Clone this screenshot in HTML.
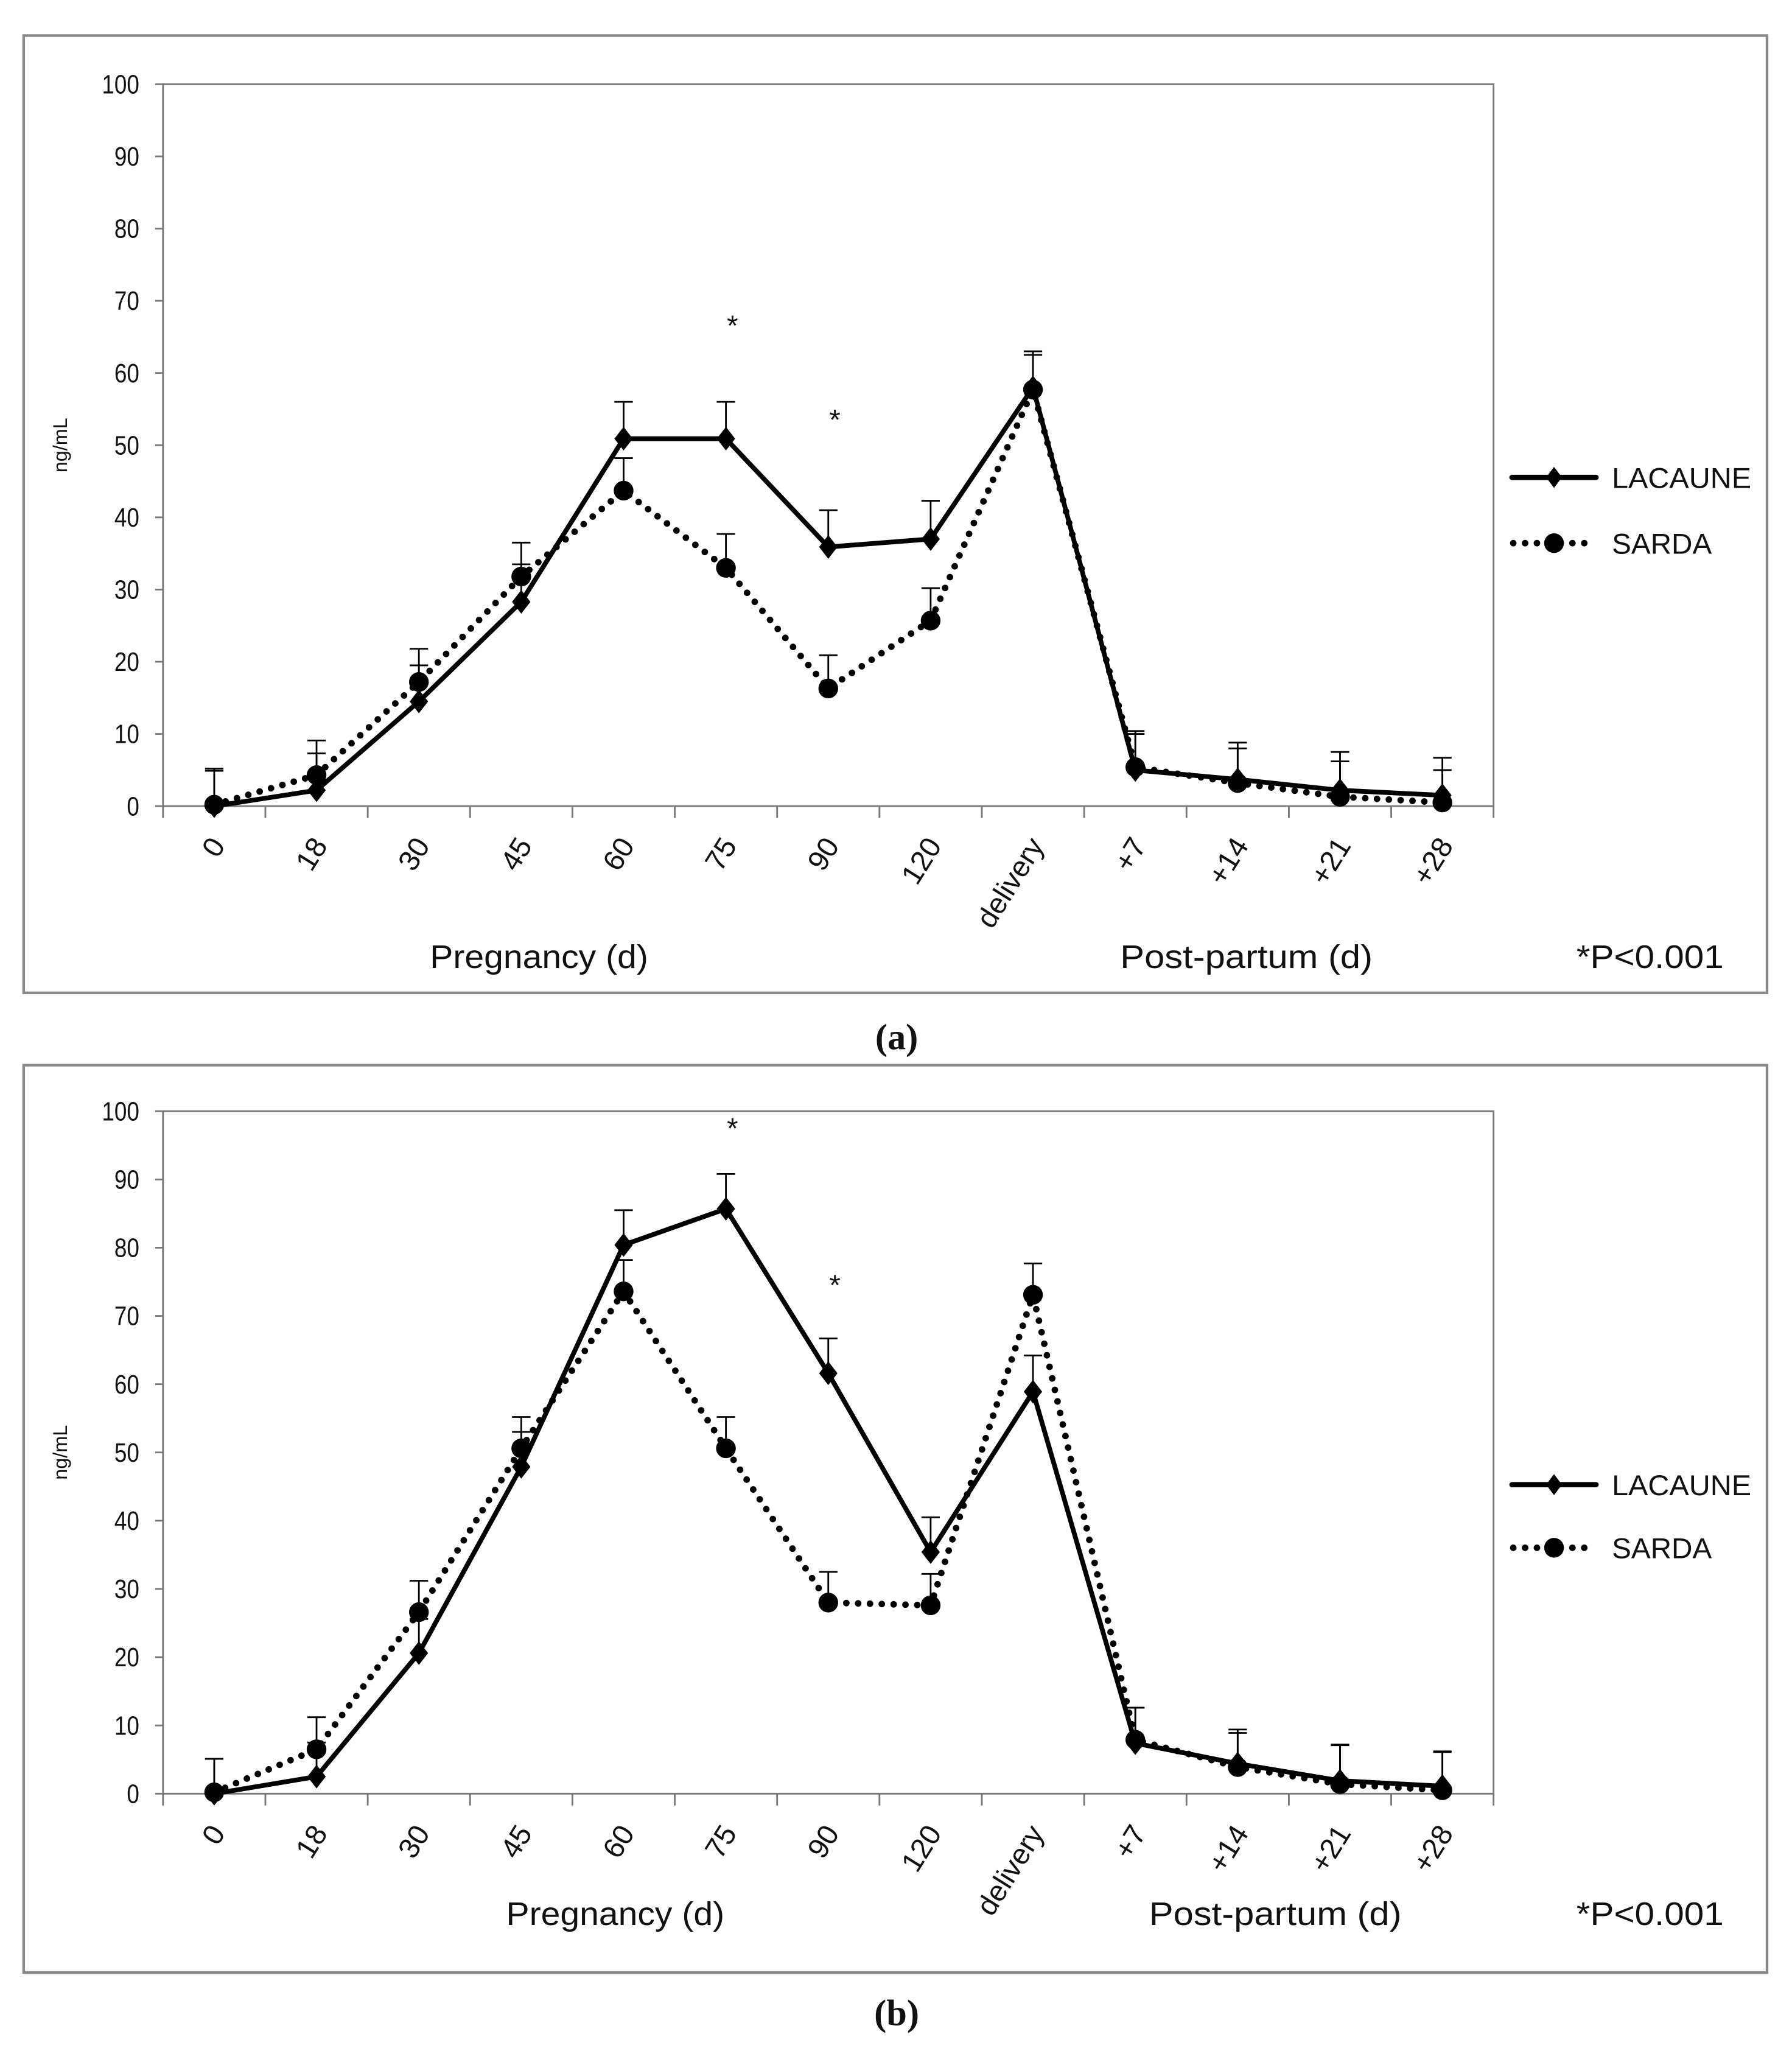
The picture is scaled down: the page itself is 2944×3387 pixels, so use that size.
<!DOCTYPE html>
<html><head><meta charset="utf-8"><style>
html,body{margin:0;padding:0;background:#fff}
svg{display:block}
text{font-family:"Liberation Sans",sans-serif;fill:#111}
text.serif{font-family:"Liberation Serif",serif;font-weight:bold}
</style></head><body>
<svg id="fig" width="2944" height="3387" viewBox="0 0 1363 1568" xmlns="http://www.w3.org/2000/svg"></svg>
<script>
const categories=["0","18","30","45","60","75","90","120","delivery","+7","+14","+21","+28"];
const yTicks=[0,10,20,30,40,50,60,70,80,90,100];
const aLacaune=[0,2.2,14.5,28.3,50.9,50.9,35.9,37.0,58.0,5.0,3.7,2.2,1.5];
const aLacauneErr=[5.2,5.1,5.0,5.2,5.1,5.1,5.1,5.3,5.0,5.4,5.1,5.3,5.2];
const aSarda=[0.2,4.3,17.2,31.8,43.7,33.0,16.3,25.7,57.7,5.4,3.2,1.3,0.5];
const aSardaErr=[4.7,4.8,4.6,4.7,4.5,4.7,4.6,4.5,4.8,4.6,4.8,4.9,4.5];
const bLacaune=[0,2.5,20.6,47.9,80.4,85.7,61.6,35.4,58.9,7.4,4.4,1.9,1.1];
const bLacauneErr=[5.1,5.0,5.0,5.1,5.1,5.1,5.1,5.1,5.3,5.2,5.0,5.3,5.1];
const bSarda=[0.2,6.5,26.6,50.6,73.6,50.6,28.0,27.6,73.1,7.9,3.9,1.4,0.5];
const bSardaErr=[4.9,4.7,4.6,4.6,4.6,4.6,4.5,4.6,4.6,4.7,5.0,5.7,5.6];
const aStars=[[5,67],[6,54]];
const bStars=[[5,98],[6,75]];

const NS="http://www.w3.org/2000/svg";
const svg=document.getElementById('fig');
function el(tag,attrs,parent,txt){const e=document.createElementNS(NS,tag);for(const k in attrs)e.setAttribute(k,attrs[k]);if(txt!==undefined)e.textContent=txt;(parent||svg).appendChild(e);return e;}

function panel(id,box,top,bottom,lac,lacE,sar,sarE,stars,legY,titleY,pregX,postX,capY,cap){
  const g=el('g',{});
  
  
  const frame=el('rect',{x:18,y:box[0],width:1326,height:box[1]-box[0],fill:'none',stroke:'#888','stroke-width':2},g);
  
  
  const L=124,R=1136,n=categories.length,bw=(R-L)/n;
  const x=i=>L+bw*(i+0.5);
  const y=v=>bottom-(bottom-top)*v/100;
  const pa=el('rect',{x:L,y:top,width:R-L,height:bottom-top,fill:'none',stroke:'#777','stroke-width':1.3},g);
  
  
  yTicks.forEach(t=>{
    el('line',{x1:L-6,x2:L,y1:y(t),y2:y(t),stroke:'#777','stroke-width':1.3},g);
    const tl=el('text',{x:L-18,y:y(t)+7,'text-anchor':'end','font-size':20,textLength:String(t).length*9.5,lengthAdjust:'spacingAndGlyphs'},g,String(t));
    
    
  });
  for(let i=0;i<=n;i++) el('line',{x1:L+bw*i,x2:L+bw*i,y1:bottom,y2:bottom+9,stroke:'#777','stroke-width':1.3},g);
  categories.forEach((c,i)=>{
    const t=el('text',{x:0,y:0,'text-anchor':'end','font-size':22,transform:`translate(${x(i)+9},${bottom+30}) rotate(-58)`},g,c);
    
    
  });
  const yt=el('text',{x:0,y:0,'font-size':15,'text-anchor':'middle',transform:`translate(51,${(top+bottom)/2}) rotate(-90)`},g,'ng/mL');
  
  
  function err(vals,errs,name){
    vals.forEach((v,i)=>{
      const e=el('g',{stroke:'#000','stroke-width':1.3},g);
      
      
      el('line',{x1:x(i),x2:x(i),y1:y(v),y2:y(v+errs[i])},e);
      el('line',{x1:x(i)-7,x2:x(i)+7,y1:y(v+errs[i]),y2:y(v+errs[i])},e);
    });
  }
  err(sar,sarE,'sarda');err(lac,lacE,'lacaune');
  const sp=el('polyline',{points:sar.map((v,i)=>x(i)+','+y(v)).join(' '),fill:'none',stroke:'#000','stroke-width':5,'stroke-dasharray':'0 9','stroke-linecap':'round'},g);
  
  
  sar.forEach((v,i)=>{const c=el('circle',{cx:x(i),cy:y(v),r:7.5,fill:'#000'},g);
    
    });
  const lp=el('polyline',{points:lac.map((v,i)=>x(i)+','+y(v)).join(' '),fill:'none',stroke:'#000','stroke-width':3.6,'stroke-linejoin':'round'},g);
  
  
  lac.forEach((v,i)=>{const X=x(i),Y=y(v);const d=el('polygon',{points:`${X},${Y-9} ${X+7},${Y} ${X},${Y+9} ${X-7},${Y}`,fill:'#000'},g);
    
    });
  stars.forEach(s=>{const t=el('text',{x:x(s[0])+5,y:y(s[1])+10,'text-anchor':'middle','font-size':22},g,'*');
    
    });
  const lg=el('g',{},g);
  
  
  const l1=el('g',{},lg);
  
  
  el('line',{x1:1150,x2:1214,y1:legY[0],y2:legY[0],stroke:'#000','stroke-width':4,'stroke-linecap':'round'},l1);
  el('polygon',{points:`1182,${legY[0]-8} 1188,${legY[0]} 1182,${legY[0]+8} 1176,${legY[0]}`,fill:'#000'},l1);
  el('text',{x:1226,y:legY[0]+8,'font-size':22,textLength:106,lengthAdjust:'spacingAndGlyphs'},l1,'LACAUNE');
  const l2=el('g',{},lg);
  
  
  el('line',{x1:1151,x2:1214,y1:legY[1],y2:legY[1],stroke:'#000','stroke-width':5,'stroke-dasharray':'0 9','stroke-linecap':'round'},l2);
  el('circle',{cx:1182,cy:legY[1],r:7.5,fill:'#000'},l2);
  el('text',{x:1226,y:legY[1]+8,'font-size':22,textLength:76,lengthAdjust:'spacingAndGlyphs'},l2,'SARDA');
  const p1=el('text',{x:pregX,y:titleY,'text-anchor':'middle','font-size':25,textLength:166,lengthAdjust:'spacingAndGlyphs'},g,'Pregnancy (d)');
  
  
  const p2=el('text',{x:postX,y:titleY,'text-anchor':'middle','font-size':25,textLength:192,lengthAdjust:'spacingAndGlyphs'},g,'Post-partum (d)');
  
  
  const p3=el('text',{x:1255,y:titleY,'text-anchor':'middle','font-size':25,textLength:112,lengthAdjust:'spacingAndGlyphs'},g,'*P<0.001');
  
  
  const c=el('text',{x:682,y:capY,'text-anchor':'middle','font-size':28,'class':'serif'},svg,'('+cap+')');
  
  
}
panel('a',[27,755],64,613,aLacaune,aLacauneErr,aSarda,aSardaErr,aStars,[363,413],736,410,948,798,'a');
panel('b',[810,1500],845,1364,bLacaune,bLacauneErr,bSarda,bSardaErr,bStars,[1129,1177],1464,468,970,1540,'b');
</script>
</body></html>
